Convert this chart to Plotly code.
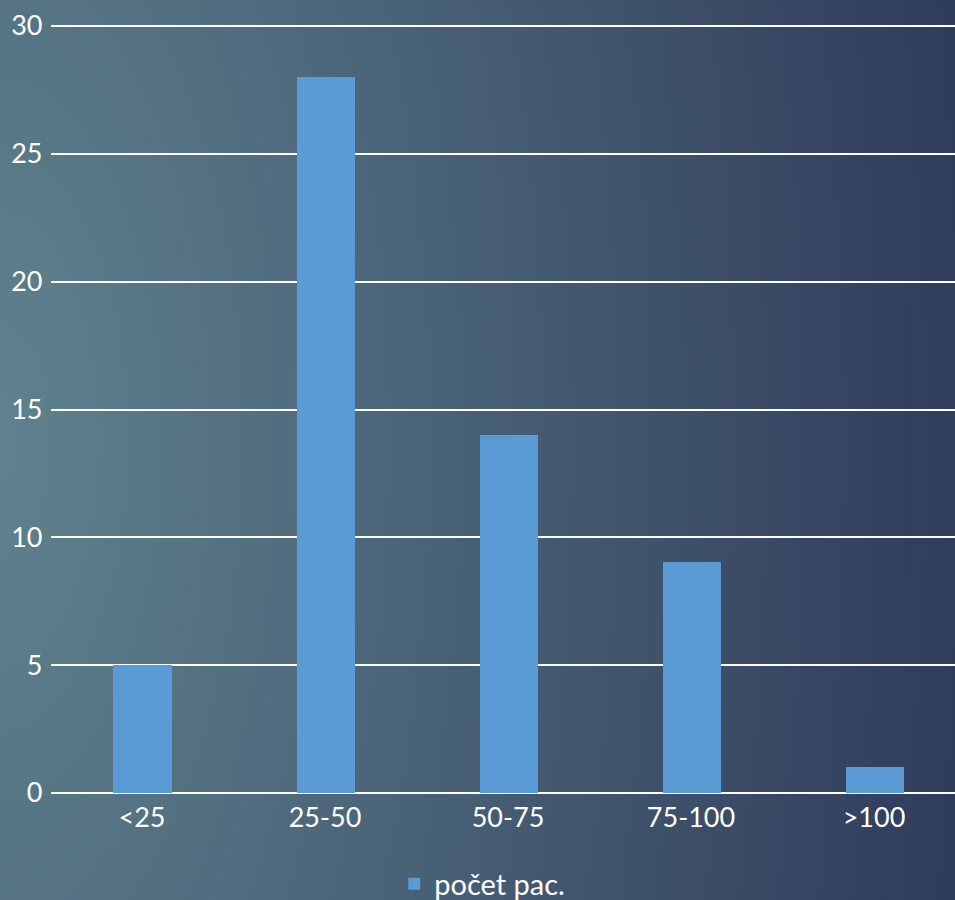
import base64
import struct
import zlib

import plotly.graph_objects as go

# ---- data ----
categories = ["<25", "25-50", "50-75", "75-100", ">100"]
values = [5, 28, 14, 9, 1]
series_name = "počet pac."
y_ticks = [0, 5, 10, 15, 20, 25, 30]

W, H = 955, 900

# ---- background gradient image (decoration) ----
def make_gradient_png(w, h):
    light = (95, 130, 142)
    dark = (45, 56, 88)
    cx, cy = 0.0, 440.0 / H
    rows = []
    for j in range(h):
        py = (j + 0.5) / h
        row = bytearray([0])
        for i in range(w):
            px = (i + 0.5) / w
            dx = (px - cx) * W / 1020.0
            dy = (py - cy) * H / 2300.0
            t = (dx * dx + dy * dy) ** 0.5
            t = min(1.0, t)
            for k in range(3):
                row.append(int(round(light[k] + (dark[k] - light[k]) * t)))
        rows.append(bytes(row))
    raw = b"".join(rows)

    def chunk(tag, data):
        c = struct.pack(">I", len(data)) + tag + data
        return c + struct.pack(">I", zlib.crc32(tag + data) & 0xFFFFFFFF)

    png = b"\x89PNG\r\n\x1a\n"
    png += chunk(b"IHDR", struct.pack(">IIBBBBB", w, h, 8, 2, 0, 0, 0))
    png += chunk(b"IDAT", zlib.compress(raw, 9))
    png += chunk(b"IEND", b"")
    return "data:image/png;base64," + base64.b64encode(png).decode()

bg = make_gradient_png(320, 300)

font_family = "Lato, 'Open Sans', sans-serif"

fig = go.Figure()
fig.add_trace(go.Bar(
    x=categories,
    y=values,
    name=series_name,
    marker=dict(color="#5b9bd5", line=dict(width=0)),
    width=0.317,
    showlegend=True,
))

y_max = 30.1
px_per_unit = (793 - 26) / 30.0
plot_left, plot_right = 50.5, 955
plot_bottom = 793
plot_top = plot_bottom - y_max * px_per_unit

fig.update_layout(
    width=W,
    height=H,
    margin=dict(l=0, r=0, t=0, b=0, autoexpand=False),
    paper_bgcolor="#3e5268",
    plot_bgcolor="rgba(0,0,0,0)",
    font=dict(family=font_family, size=27, color="#ffffff"),
    images=[dict(
        source=bg, xref="paper", yref="paper", x=0, y=1, sizex=1, sizey=1,
        xanchor="left", yanchor="top", sizing="stretch", layer="below",
    )],
    xaxis=dict(
        domain=[plot_left / W, plot_right / W],
        range=[-0.5, 4.4426],
        type="category",
        showgrid=False,
        zeroline=False,
        showline=False,
        ticks="",
        automargin=False,
        ticklabelstandoff=6,
        tickfont=dict(size=27, color="#ffffff"),
    ),
    yaxis=dict(
        domain=[(H - plot_bottom) / H, (H - plot_top) / H],
        range=[0, y_max],
        tickvals=y_ticks,
        showgrid=True,
        gridcolor="#ffffff",
        gridwidth=2,
        zeroline=True,
        zerolinecolor="#ffffff",
        zerolinewidth=2,
        showline=False,
        ticks="",
        automargin=False,
        ticklabelstandoff=7,
        tickfont=dict(size=27, color="#ffffff"),
    ),
    legend=dict(
        orientation="h",
        x=0.505,
        xanchor="center",
        y=(H - 884) / H,
        yanchor="middle",
        font=dict(size=29, color="#ffffff"),
        bgcolor="rgba(0,0,0,0)",
    ),
    bargap=0,
)

fig.write_html("out.html")
